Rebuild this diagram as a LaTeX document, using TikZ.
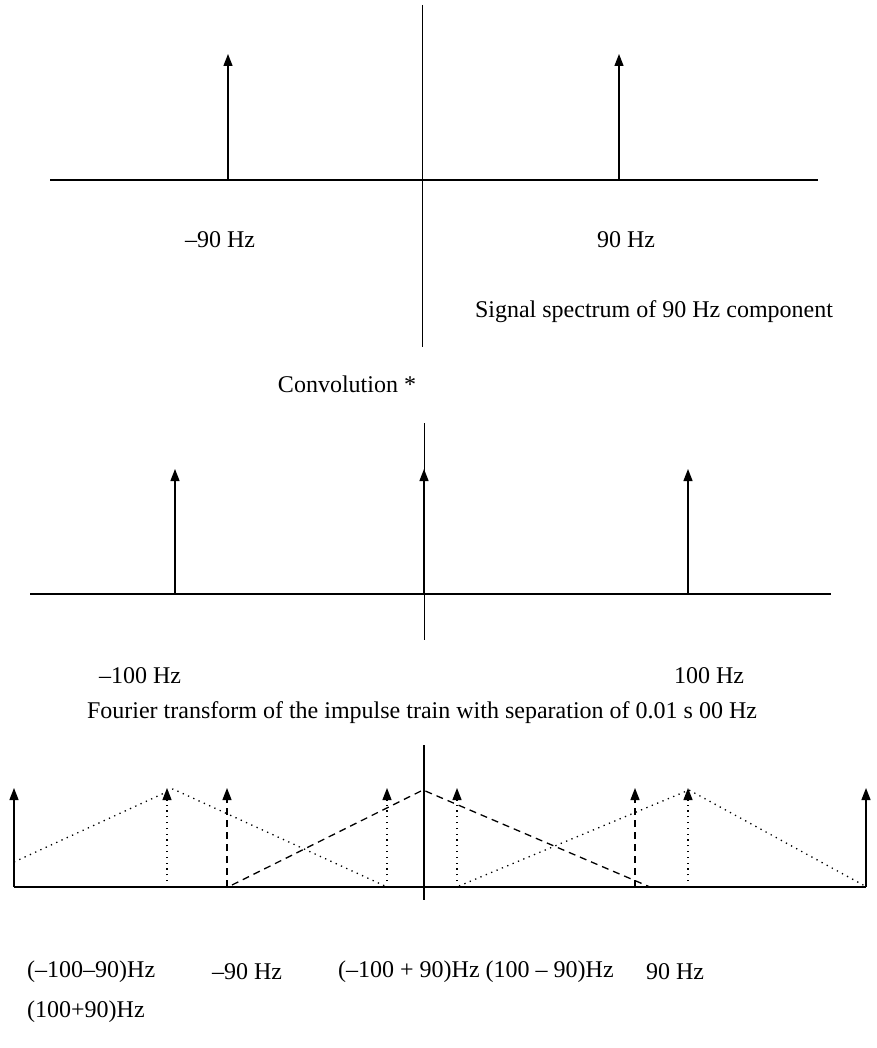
\documentclass[tikz,border=0pt]{standalone}
\usepackage{fontspec}
\setmainfont{Liberation Serif}
\usetikzlibrary{arrows.meta}

\begin{document}
\begin{tikzpicture}[>={Triangle[length=12pt,width=9pt]}, x=1pt, y=-1pt,
  every node/.style={font=\fontsize{24}{28}\selectfont, inner sep=0pt},
  imp/.style={->, line width=1.3pt},
  axis/.style={line width=1.5pt},
  dotline/.style={line width=1.3pt, dash pattern=on 1.3pt off 4.5pt},
  dashline/.style={line width=1.3pt, dash pattern=on 7pt off 5pt}]
  \useasboundingbox (0,0) rectangle (876,1048);
  % spectrum of the 90 Hz component
  \draw[line width=1pt] (422,5) -- (422,347);
  \draw[axis] (50,180) -- (818,180);
  \draw[imp] (228,180) -- (228,54); \draw[imp] (619,180) -- (619,54);
  \node (m90a) at (220,240){--90 Hz}; \node (p90a) at (626,240){90 Hz};
  \node (capA) at (654,312){Signal spectrum of 90 Hz component};
  \node (conv) at (347,384){Convolution *};
  % impulse train
  \draw[line width=1pt] (424,423) -- (424,640);
  \draw[axis] (30,594) -- (831,594);
  \draw[imp] (175,594) -- (175,469); \draw[imp] (424,594) -- (424,469);
  \draw[imp] (688,594) -- (688,469);
  \node (m100) at (140,676){--100 Hz}; \node (p100) at (709,676){100 Hz};
  \node (capB) at (422,713){Fourier transform of the impulse train with separation of 0.01 s 00 Hz};
  % sampled spectrum
  \draw[line width=1.8pt] (424,745) -- (424,900);
  \draw[axis] (14,887) -- (866,887);
  \draw[imp] (14,887) -- (14,788); \draw[imp] (866,887) -- (866,788);
  \foreach \xa in {167,387,457,688} \draw[imp, dotline] (\xa,887) -- (\xa,788);
  \foreach \xa in {227,635} \draw[imp, dashline] (\xa,887) -- (\xa,788);
  \draw[dotline] (14,862) -- (173,789) -- (385,886);
  \draw[dashline] (232,885) -- (423,790) -- (650,887);
  \draw[dotline] (459,886) -- (689,790) -- (865,886);
  \node[anchor=west] (lA) at (27,972){(--100--90)Hz};
  \node (lB) at (247,972){--90 Hz};
  \node[anchor=west] (lC) at (338,972){(--100 + 90)Hz (100 -- 90)Hz};
  \node (lD) at (675,972){90 Hz};
  \node[anchor=west] (lE) at (27,1012){(100+90)Hz};
\end{tikzpicture}
\end{document}
